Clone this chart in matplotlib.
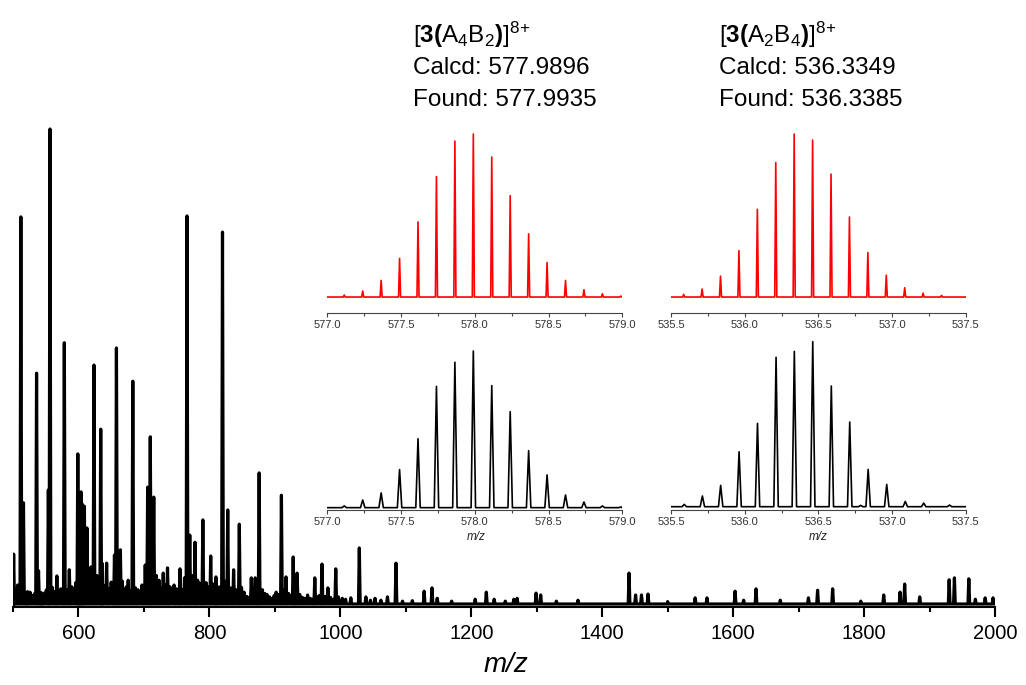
import numpy as np
import matplotlib
matplotlib.use("Agg")
import matplotlib.pyplot as plt
from matplotlib.ticker import MultipleLocator, FormatStrFormatter

plt.rcParams["font.family"] = ["Liberation Sans", "DejaVu Sans"]
plt.rcParams["mathtext.fontset"] = "custom"
plt.rcParams["mathtext.rm"] = "Liberation Sans"
plt.rcParams["mathtext.it"] = "Liberation Sans:italic"
plt.rcParams["mathtext.bf"] = "Liberation Sans:bold"

# full-range ESI spectrum, peak positions (m/z) and relative intensities (%)
main_mz = [501, 503, 507, 512, 516, 520, 522, 526, 530, 533, 536, 539, 543, 545,
           548, 551, 554, 556.5, 560, 563, 567, 570, 573, 578.4, 582, 586, 590, 593,
           596, 599, 601, 604, 606, 609, 613, 616, 619, 623.7, 628, 631, 634, 636,
           640, 643, 647, 650, 655, 658, 664, 667, 670, 673, 676, 679, 683, 687, 691,
           694, 697, 702, 705.7, 709.7, 712, 715, 719, 723, 726, 729.5, 733, 736, 740,
           743, 746, 750, 755, 759, 762, 765.8, 770, 775, 778, 782, 785, 790, 795, 798,
           802, 806, 810, 812, 815, 820, 824, 828, 832, 837, 841, 845.7, 849, 853, 857,
           861, 864, 867, 870, 876, 881, 885, 888, 892, 896, 899, 902, 906, 910, 913,
           917, 921, 925, 928, 934, 938, 942, 946, 950, 954, 957, 961, 965, 968, 972,
           977, 981, 985, 989, 993, 997, 1003, 1008, 1016, 1029, 1039, 1046, 1053,
           1062, 1072, 1085, 1095, 1110, 1128, 1140, 1148, 1170, 1206, 1223, 1235,
           1252, 1265, 1270, 1299, 1306, 1330, 1363, 1441, 1451, 1460, 1470, 1500,
           1542, 1560, 1603, 1616, 1635, 1672, 1715, 1729, 1752, 1795, 1830, 1855,
           1862, 1885, 1930, 1938, 1960, 1970, 1985, 1997]
main_int = [10.5, 3.0, 4.0, 81.5, 21.3, 2.0, 2.6, 2.5, 1.8, 2.2, 48.6, 7.0, 2.4, 1.6,
            2.3, 3.0, 24.0, 100, 3.5, 2.6, 5.9, 2.8, 3.2, 55.0, 3.0, 7.2, 3.6, 2.4,
            4.5, 31.6, 22.0, 23.6, 21.0, 20.6, 16.0, 5.0, 7.8, 50.3, 6.0, 4.2, 36.8, 8.6,
            3.8, 8.6, 3.2, 4.6, 10.3, 53.9, 11.4, 4.8, 3.0, 3.6, 5.0, 2.8, 46.9, 3.4, 3.0,
            2.5, 4.0, 8.2, 24.6, 35.2, 20.0, 22.5, 6.0, 5.0, 3.5, 6.5, 4.0, 7.6, 3.6,
            2.8, 4.0, 3.2, 7.4, 3.0, 5.5, 81.7, 14.5, 6.0, 13.0, 5.0, 4.4, 17.7, 4.5, 3.6,
            10.1, 4.2, 5.7, 3.0, 3.6, 78.3, 4.8, 19.8, 3.4, 7.2, 3.0, 16.8, 3.5, 2.5, 1.6,
            1.4, 5.5, 3.0, 5.5, 27.6, 3.0, 2.2, 2.0, 1.5, 1.2, 1.8, 2.5, 2.0, 22.9, 3.0,
            5.7, 2.2, 1.8, 9.9, 6.5, 2.0, 1.4, 1.2, 1.9, 1.2, 1.0, 5.5, 1.5, 1.8, 8.4,
            1.6, 3.4, 1.4, 1.0, 7.4, 1.5, 1.2, 1.0, 1.3, 11.8, 1.5, 0.8, 1.2,
            0.8, 1.5, 8.6, 0.6, 0.7, 2.7, 3.4, 1.2, 0.6, 1.0, 2.5, 1.0,
            0.6, 1.0, 1.2, 2.3, 1.9, 0.6, 0.8, 6.5, 1.9, 1.9, 2.1, 0.5,
            1.3, 1.3, 2.7, 0.8, 3.2, 0.8, 1.3, 2.9, 3.2, 0.6, 1.9, 2.5,
            4.2, 1.5, 5.1, 5.5, 5.3, 1.0, 1.3, 1.3]

# [3(A4B2)]8+ : simulated (red) and observed (black)
a4b2_mz = [577.115, 577.240, 577.365, 577.490, 577.615, 577.740, 577.865, 577.990,
           578.115, 578.240, 578.365, 578.490, 578.615, 578.740, 578.865, 578.990]
a4b2_calc = [1.2, 3.7, 10.2, 23.7, 46.1, 73.9, 95.7, 100, 85.9, 62.2, 38.8, 21.2,
             10.2, 4.5, 2.0, 0.6]
a4b2_found = [1.1, 4.9, 9.4, 24.3, 44.0, 77.4, 92.8, 100, 77.9, 61.3, 36.4, 20.9,
              8.1, 3.6, 1.1, 0.4]

# [3(A2B4)]8+ : simulated (red) and observed (black)
a2b4_calc_mz = [535.586, 535.711, 535.836, 535.961, 536.086, 536.211, 536.336, 536.461,
                536.586, 536.711, 536.836, 536.961, 537.086, 537.211, 537.336]
a2b4_calc = [1.6, 4.9, 12.8, 28.5, 53.8, 82.5, 100, 96.3, 75.4, 49.1, 27.3, 13.4,
             5.7, 2.4, 1.0]
a2b4_found_mz = [535.590, 535.713, 535.837, 535.962, 536.087, 536.213, 536.337, 536.462,
                 536.588, 536.713, 536.787, 536.838, 536.964, 537.090, 537.215, 537.390]
a2b4_found = [1.4, 6.5, 12.9, 33.3, 50.5, 90.5, 94.1, 100, 73.1, 51.3, 0.8, 22.6,
              13.5, 3.2, 2.2, 1.0]


def stick_profile(mz, inten, hw, lo, hi):
    """Turn a stick list into a line trace with narrow triangular peaks."""
    order = np.argsort(mz)
    xs, ys = [lo], [0.0]
    for i in order:
        xs += [mz[i] - hw, mz[i], mz[i] + hw]
        ys += [0.0, inten[i], 0.0]
    xs.append(hi)
    ys.append(0.0)
    return xs, ys


W, H = 1026, 685
fig = plt.figure(figsize=(W / 100, H / 100), dpi=100)

# --- main spectrum ---
ax = fig.add_axes([13 / W, 1 - 607 / H, 982 / W, 487 / H])
xs, ys = stick_profile(main_mz, main_int, 1.3, 500, 2000)
ax.plot(xs, ys, color="black", lw=2.3)
ax.set_xlim(500, 2000)
ax.set_ylim(-0.63, 101.9)
for s in ("left", "top", "right"):
    ax.spines[s].set_visible(False)
ax.spines["bottom"].set_linewidth(1.5)
ax.set_yticks([])
ax.set_xticks(range(600, 2001, 200))
ax.xaxis.set_minor_locator(MultipleLocator(100))
ax.tick_params(axis="x", which="major", length=7, width=1.5, labelsize=14.5, pad=5)
ax.tick_params(axis="x", which="minor", length=3.5, width=1.5)
fig.text(506 / W, 1 - 665 / H, "m/z", style="italic", fontsize=20,
         ha="center", va="center")


def inset(rect, mz, inten, color, hw, lw, xlim, ylim):
    a = fig.add_axes([rect[0] / W, 1 - rect[3] / H, (rect[2] - rect[0]) / W,
                      (rect[3] - rect[1]) / H])
    px, py = stick_profile(mz, inten, hw, xlim[0], xlim[1])
    a.plot(px, py, color=color, lw=lw)
    a.set_xlim(*xlim)
    a.set_ylim(*ylim)
    a.patch.set_alpha(0)
    for s in ("left", "top", "right"):
        a.spines[s].set_visible(False)
    a.spines["bottom"].set_linewidth(0.8)
    a.spines["bottom"].set_color("#444444")
    a.set_yticks([])
    a.xaxis.set_major_locator(MultipleLocator(0.5))
    a.xaxis.set_minor_locator(MultipleLocator(0.25))
    a.xaxis.set_major_formatter(FormatStrFormatter("%.1f"))
    a.tick_params(axis="x", which="major", length=3, width=0.8, color="#444444",
                  labelsize=8, labelcolor="#333333", pad=2)
    a.tick_params(axis="x", which="minor", length=1.8, width=0.8, color="#444444")
    return a


inset((327.3, 130, 622.3, 313), a4b2_mz, a4b2_calc, "#ff0000", 0.007, 1.2,
      (577.0, 579.0), (-9.8, 102.5))
inset((671, 130, 965.7, 313), a2b4_calc_mz, a2b4_calc, "#ff0000", 0.007, 1.2,
      (535.5, 537.5), (-9.8, 102.5))
inset((327.3, 338, 622.3, 510), a4b2_mz, a4b2_found, "black", 0.015, 1.2,
      (577.0, 579.0), (-1.5, 108.3))
inset((671, 338, 965.7, 510), a2b4_found_mz, a2b4_found, "black", 0.015, 1.2,
      (535.5, 537.5), (-2.0, 102.2))
fig.text(476 / W, 1 - 537 / H, "m/z", style="italic", fontsize=8.5,
         ha="center", va="center", color="#222222")
fig.text(818 / W, 1 - 537 / H, "m/z", style="italic", fontsize=8.5,
         ha="center", va="center", color="#222222")

# --- assignment labels ---
labels = [
    (413, [r"$[\mathbf{3(}\mathrm{A_4B_2}\mathbf{)}]^{8\!+}$",
           "Calcd: 577.9896", "Found: 577.9935"]),
    (719, [r"$[\mathbf{3(}\mathrm{A_2B_4}\mathbf{)}]^{8\!+}$",
           "Calcd: 536.3349", "Found: 536.3385"]),
]
for x0, lines in labels:
    for k, txt in enumerate(lines):
        fig.text(x0 / W, 1 - (43 + 31.5 * k) / H, txt, fontsize=17.5,
                 ha="left", va="baseline")

fig.savefig("out.png", dpi=100)
